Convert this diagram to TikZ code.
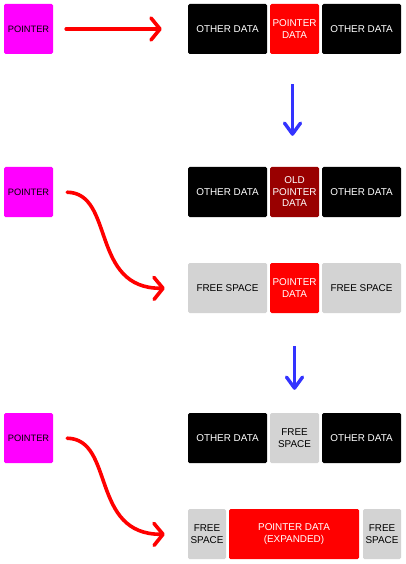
\documentclass[tikz,border=0pt]{standalone}
\usepackage{fontspec}
\setmainfont{Liberation Sans}
\usetikzlibrary{arrows.meta}
\definecolor{magen}{HTML}{FF00FF}
\definecolor{redd}{HTML}{FF0000}
\definecolor{oldred}{HTML}{990000}
\definecolor{freeg}{HTML}{D3D3D3}
\definecolor{bluea}{HTML}{3333FF}
\begin{document}
\begin{tikzpicture}[x=1pt,y=-1pt,
  blk/.style={draw=none,rounded corners=1.5pt,minimum height=50pt,inner sep=0pt,align=center,
    font=\fontsize{9.9}{11.5}\selectfont},
  ptrbox/.style={blk,fill=magen,minimum width=49pt,text=black},
  other/.style={blk,fill=black,text=white,minimum width=79pt},
  pdata/.style={blk,fill=redd,text=white,minimum width=49pt},
  olddata/.style={blk,fill=oldred,text=white,minimum width=49pt},
  freebox/.style={blk,fill=freeg,text=black,minimum width=79pt},
  redarrow/.style={draw=redd,line width=3.6pt,line cap=round,
    -{Straight Barb[length=9pt,width=22pt,round]}},
  bluearrow/.style={draw=bluea,line width=3.4pt,
    -{Straight Barb[length=11pt,width=16pt,round]}}]
\useasboundingbox (0,0) rectangle (405,564);
% row 1
\node[ptrbox,font=\fontsize{9.3}{11.5}\selectfont] (p1) at (28.5,29) {POINTER};
\node[other] (a1) at (227.5,29) {OTHER DATA};
\node[pdata] (b1) at (294.5,29) {POINTER\\DATA};
\node[other] (c1) at (361.5,29) {OTHER DATA};
\draw[redarrow,shorten <=13pt,shorten >=26pt] (p1.east) -- (a1.west);
% row 2
\node[ptrbox,font=\fontsize{9.3}{11.5}\selectfont] (p2) at (28.5,192) {POINTER};
\node[other] (a2) at (227.5,192) {OTHER DATA};
\node[olddata] (b2) at (294.5,192) {OLD\\POINTER\\DATA};
\node[other] (c2) at (361.5,192) {OTHER DATA};
\node[freebox] (d2) at (227.5,288) {FREE SPACE};
\node[pdata] (e2) at (294.5,288) {POINTER\\DATA};
\node[freebox] (f2) at (361.5,288) {FREE SPACE};
\draw[redarrow,shorten <=14pt,shorten >=23pt] (p2.east) .. controls (115,193) and (90,289) .. (d2.west);
\draw[bluearrow,shorten <=30pt,shorten >=31pt] ([xshift=-2pt]b1.south) -- ([xshift=-2pt]b2.north);
% row 3
\node[ptrbox,font=\fontsize{9.3}{11.5}\selectfont] (p3) at (28.5,438) {POINTER};
\node[other] (a3) at (227.5,438) {OTHER DATA};
\node[freebox,minimum width=49pt] (b3) at (294.5,438) {FREE\\SPACE};
\node[other] (c3) at (361.5,438) {OTHER DATA};
\node[freebox,minimum width=38pt] (d3) at (207,534) {FREE\\SPACE};
\node[pdata,minimum width=130pt] (e3) at (294,534) {POINTER DATA\\(EXPANDED)};
\node[freebox,minimum width=38pt] (f3) at (382,534) {FREE\\SPACE};
\draw[redarrow,shorten <=14pt,shorten >=23pt] (p3.east) .. controls (115,439) and (90,535) .. (d3.west);
\draw[bluearrow,shorten <=33pt,shorten >=23pt] (e2.south) -- (b3.north);
\end{tikzpicture}
\end{document}
